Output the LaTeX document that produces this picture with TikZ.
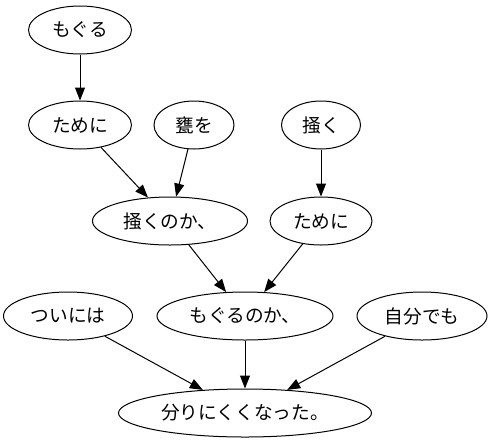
\documentclass[tikz,border=0pt]{standalone}
\usepackage{fontspec}
\newfontfamily\jpfont{Noto Sans CJK JP}
\usetikzlibrary{shapes.geometric,arrows.meta}
\begin{document}
\begin{tikzpicture}[x=0.75pt,y=-0.75pt,
  word/.style={ellipse,draw,line width=0.75pt,inner sep=0pt,
    minimum height=36pt,font=\jpfont\fontsize{14pt}{16pt}\selectfont},
  link/.style={line width=0.75pt,-{Triangle[length=9.75pt,width=7.5pt]}}]
  \useasboundingbox (0,0) rectangle (491,443);
  % first row
  \node[word,minimum width=103*0.75pt] (mog) at (80,30) {もぐる};
  % second row
  \node[word,minimum width=103*0.75pt] (tameA) at (80,125) {ために};
  \node[word,minimum width=80*0.75pt] (kame) at (194,125) {甕を};
  \node[word,minimum width=79*0.75pt] (kaku) at (321,125) {掻く};
  % third row
  \node[word,minimum width=155*0.75pt] (kakunoka) at (170,221) {掻くのか、};
  \node[word,minimum width=102*0.75pt] (tameB) at (321,221) {ために};
  % fourth row
  \node[word,minimum width=129*0.75pt] (tsui) at (68,316) {ついには};
  \node[word,minimum width=176*0.75pt] (mognoka) at (245,316) {もぐるのか、};
  \node[word,minimum width=130*0.75pt] (jibun) at (422,316) {自分でも};
  % last row
  \node[word,minimum width=253*0.75pt] (wakari) at (245,413) {分りにくくなった。};
  % connectors
  \draw[link] (mog) -- (tameA);
  \draw[link] (tameA) -- (kakunoka);
  \draw[link] (kame) -- (kakunoka);
  \draw[link] (kaku) -- (tameB);
  \draw[link] (kakunoka) -- (mognoka);
  \draw[link] (tameB) -- (mognoka);
  \draw[link] (tsui) -- (wakari);
  \draw[link] (mognoka) -- (wakari);
  \draw[link] (jibun) -- (wakari);
\end{tikzpicture}
\end{document}
